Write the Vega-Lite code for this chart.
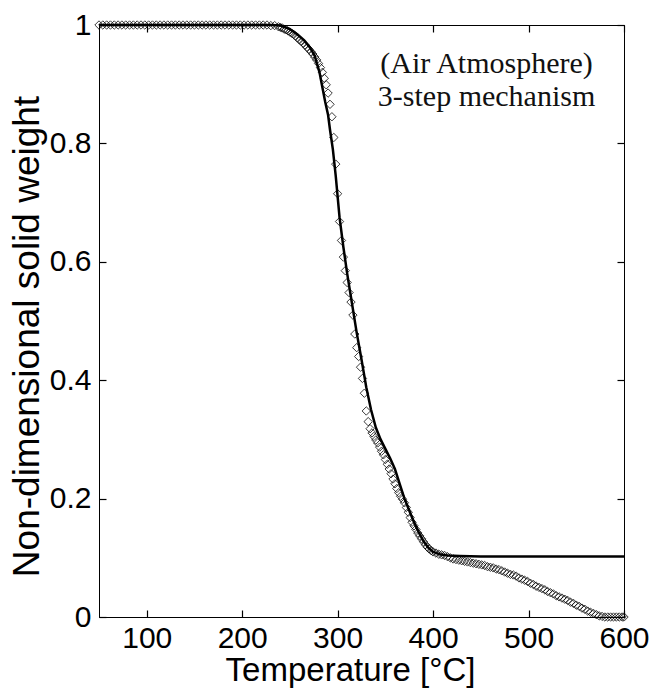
{
  "$schema": "https://vega.github.io/schema/vega-lite/v6.json",
  "width": 525,
  "height": 592,
  "autosize": "none",
  "padding": {"left": 99, "top": 25, "right": 30, "bottom": 73},
  "background": "white",
  "config": {
    "view": {"stroke": "black", "strokeWidth": 1},
    "axis": {
      "labelFont": "Liberation Sans",
      "titleFont": "Liberation Sans",
      "labelColor": "black",
      "titleColor": "black",
      "domainColor": "black",
      "tickColor": "black",
      "grid": false,
      "titleFontWeight": "normal",
      "labelFontSize": 30,
      "tickSize": -7,
      "tickWidth": 1.2
    }
  },
  "datasets": {
    "exp": [
      {"T": 50, "W": 1}, {"T": 54, "W": 1}, {"T": 58, "W": 1}, {"T": 62, "W": 1}, {"T": 66, "W": 1},
      {"T": 70, "W": 1}, {"T": 74, "W": 1}, {"T": 78, "W": 1}, {"T": 82, "W": 1}, {"T": 86, "W": 1},
      {"T": 90, "W": 1}, {"T": 94, "W": 1}, {"T": 98, "W": 1}, {"T": 102, "W": 1}, {"T": 106, "W": 1},
      {"T": 110, "W": 1}, {"T": 114, "W": 1}, {"T": 118, "W": 1}, {"T": 122, "W": 1}, {"T": 126, "W": 1},
      {"T": 130, "W": 1}, {"T": 134, "W": 1}, {"T": 138, "W": 1}, {"T": 142, "W": 1}, {"T": 146, "W": 1},
      {"T": 150, "W": 1}, {"T": 154, "W": 1}, {"T": 158, "W": 1}, {"T": 162, "W": 1}, {"T": 166, "W": 1},
      {"T": 170, "W": 1}, {"T": 174, "W": 1}, {"T": 178, "W": 1}, {"T": 182, "W": 1}, {"T": 186, "W": 1},
      {"T": 190, "W": 1}, {"T": 194, "W": 1}, {"T": 198, "W": 1}, {"T": 202, "W": 1}, {"T": 206, "W": 1},
      {"T": 210, "W": 1}, {"T": 214, "W": 1}, {"T": 218, "W": 1}, {"T": 222, "W": 1}, {"T": 226, "W": 1},
      {"T": 230, "W": 0.999}, {"T": 234, "W": 0.999}, {"T": 238, "W": 0.997},
      {"T": 240, "W": 0.996}, {"T": 242, "W": 0.995}, {"T": 244, "W": 0.993}, {"T": 246, "W": 0.992},
      {"T": 248, "W": 0.99}, {"T": 250, "W": 0.988}, {"T": 252, "W": 0.986}, {"T": 254, "W": 0.984},
      {"T": 256, "W": 0.981}, {"T": 258, "W": 0.978}, {"T": 260, "W": 0.975}, {"T": 262, "W": 0.972},
      {"T": 264, "W": 0.969}, {"T": 266, "W": 0.966}, {"T": 268, "W": 0.962}, {"T": 270, "W": 0.959},
      {"T": 272, "W": 0.955}, {"T": 274, "W": 0.951}, {"T": 276, "W": 0.946}, {"T": 278, "W": 0.941},
      {"T": 280, "W": 0.935}, {"T": 282, "W": 0.928}, {"T": 284, "W": 0.92}, {"T": 286, "W": 0.91},
      {"T": 288, "W": 0.899}, {"T": 290, "W": 0.885}, {"T": 292, "W": 0.866}, {"T": 294, "W": 0.845},
      {"T": 296, "W": 0.81}, {"T": 298, "W": 0.765}, {"T": 300, "W": 0.715}, {"T": 302, "W": 0.668},
      {"T": 304, "W": 0.636}, {"T": 306, "W": 0.608}, {"T": 308, "W": 0.585}, {"T": 310, "W": 0.565},
      {"T": 312, "W": 0.548}, {"T": 314, "W": 0.532}, {"T": 316, "W": 0.51}, {"T": 318, "W": 0.478},
      {"T": 320, "W": 0.455}, {"T": 322, "W": 0.44}, {"T": 324, "W": 0.422}, {"T": 326, "W": 0.403},
      {"T": 328, "W": 0.378}, {"T": 330, "W": 0.348}, {"T": 332, "W": 0.33}, {"T": 334, "W": 0.318},
      {"T": 336, "W": 0.311}, {"T": 338, "W": 0.305}, {"T": 340, "W": 0.299}, {"T": 342, "W": 0.294},
      {"T": 344, "W": 0.287}, {"T": 346, "W": 0.28}, {"T": 348, "W": 0.274}, {"T": 350, "W": 0.266},
      {"T": 352, "W": 0.258}, {"T": 354, "W": 0.25}, {"T": 356, "W": 0.242}, {"T": 358, "W": 0.233},
      {"T": 360, "W": 0.225}, {"T": 362, "W": 0.217}, {"T": 364, "W": 0.21}, {"T": 366, "W": 0.204},
      {"T": 368, "W": 0.199}, {"T": 370, "W": 0.193}, {"T": 372, "W": 0.185}, {"T": 374, "W": 0.177},
      {"T": 376, "W": 0.168}, {"T": 378, "W": 0.16}, {"T": 380, "W": 0.154}, {"T": 382, "W": 0.148},
      {"T": 384, "W": 0.142}, {"T": 386, "W": 0.137}, {"T": 388, "W": 0.132}, {"T": 390, "W": 0.127},
      {"T": 392, "W": 0.122}, {"T": 394, "W": 0.118}, {"T": 396, "W": 0.115}, {"T": 398, "W": 0.112},
      {"T": 400, "W": 0.11}, {"T": 403, "W": 0.108}, {"T": 406, "W": 0.106}, {"T": 409, "W": 0.105},
      {"T": 412, "W": 0.104}, {"T": 415, "W": 0.102}, {"T": 418, "W": 0.1}, {"T": 421, "W": 0.098},
      {"T": 424, "W": 0.097}, {"T": 427, "W": 0.096}, {"T": 430, "W": 0.095}, {"T": 433, "W": 0.094},
      {"T": 436, "W": 0.093}, {"T": 439, "W": 0.092}, {"T": 442, "W": 0.091}, {"T": 445, "W": 0.09},
      {"T": 448, "W": 0.089}, {"T": 451, "W": 0.088}, {"T": 454, "W": 0.087}, {"T": 457, "W": 0.085},
      {"T": 460, "W": 0.084}, {"T": 463, "W": 0.083}, {"T": 466, "W": 0.081}, {"T": 469, "W": 0.08},
      {"T": 472, "W": 0.078}, {"T": 475, "W": 0.076}, {"T": 478, "W": 0.074}, {"T": 481, "W": 0.072},
      {"T": 484, "W": 0.071}, {"T": 487, "W": 0.069}, {"T": 490, "W": 0.066}, {"T": 493, "W": 0.064},
      {"T": 496, "W": 0.062}, {"T": 499, "W": 0.06}, {"T": 502, "W": 0.057}, {"T": 505, "W": 0.055},
      {"T": 508, "W": 0.052}, {"T": 511, "W": 0.05}, {"T": 514, "W": 0.048}, {"T": 517, "W": 0.046},
      {"T": 520, "W": 0.043}, {"T": 523, "W": 0.041}, {"T": 526, "W": 0.039}, {"T": 529, "W": 0.036},
      {"T": 532, "W": 0.034}, {"T": 535, "W": 0.032}, {"T": 538, "W": 0.03}, {"T": 541, "W": 0.028},
      {"T": 544, "W": 0.025}, {"T": 547, "W": 0.023}, {"T": 550, "W": 0.02}, {"T": 553, "W": 0.018},
      {"T": 556, "W": 0.015}, {"T": 559, "W": 0.013}, {"T": 562, "W": 0.01}, {"T": 565, "W": 0.008},
      {"T": 568, "W": 0.006}, {"T": 571, "W": 0.004}, {"T": 574, "W": 0.002}, {"T": 577, "W": 0.001},
      {"T": 580, "W": 0}, {"T": 583, "W": 0}, {"T": 586, "W": 0}, {"T": 589, "W": 0}, {"T": 592, "W": 0},
      {"T": 595, "W": 0}, {"T": 598, "W": 0}, {"T": 600, "W": 0}
    ],
    "model": [
      {"T": 50, "W": 1}, {"T": 230, "W": 1}, {"T": 240, "W": 0.999}, {"T": 250, "W": 0.993},
      {"T": 258, "W": 0.984}, {"T": 265, "W": 0.974}, {"T": 271, "W": 0.962}, {"T": 276, "W": 0.948},
      {"T": 278, "W": 0.937}, {"T": 281, "W": 0.92}, {"T": 284, "W": 0.895}, {"T": 287, "W": 0.87},
      {"T": 290, "W": 0.848}, {"T": 292, "W": 0.823}, {"T": 295, "W": 0.79}, {"T": 298, "W": 0.745},
      {"T": 302, "W": 0.675}, {"T": 306, "W": 0.625}, {"T": 310, "W": 0.58}, {"T": 315, "W": 0.53},
      {"T": 320, "W": 0.48}, {"T": 325, "W": 0.435}, {"T": 330, "W": 0.388}, {"T": 335, "W": 0.35},
      {"T": 340, "W": 0.32}, {"T": 345, "W": 0.3}, {"T": 350, "W": 0.284}, {"T": 355, "W": 0.268},
      {"T": 360, "W": 0.25}, {"T": 365, "W": 0.225}, {"T": 370, "W": 0.2}, {"T": 375, "W": 0.18},
      {"T": 380, "W": 0.16}, {"T": 385, "W": 0.143}, {"T": 390, "W": 0.128}, {"T": 395, "W": 0.117},
      {"T": 400, "W": 0.11}, {"T": 407, "W": 0.106}, {"T": 415, "W": 0.104}, {"T": 428, "W": 0.103},
      {"T": 450, "W": 0.102}, {"T": 600, "W": 0.102}
    ],
    "note": [
      {"label": "(Air Atmosphere)\n3-step mechanism"}
    ]
  },
  "layer": [
    {
      "data": {"name": "exp"},
      "mark": {"type": "point", "shape": "diamond", "filled": false, "size": 70, "stroke": "#000", "strokeWidth": 0.9, "opacity": 0.85},
      "encoding": {
        "x": {
          "field": "T", "type": "quantitative",
          "scale": {"domain": [50, 600], "nice": false, "zero": false},
          "axis": {"orient": "bottom", "values": [100, 200, 300, 400, 500, 600], "title": "Temperature [°C]", "titleFontSize": 33, "titleX": 251, "labelPadding": 13, "titlePadding": 1, "labelFlush": false}
        },
        "y": {
          "field": "W", "type": "quantitative",
          "scale": {"domain": [0, 1], "nice": false},
          "axis": {"orient": "left", "values": [0, 0.2, 0.4, 0.6, 0.8, 1], "format": "~g", "title": "Non-dimensional solid weight", "titleFontSize": 37, "titleY": 311, "labelPadding": 15, "titlePadding": 3, "labelFlush": false}
        }
      }
    },
    {
      "data": {"name": "model"},
      "mark": {"type": "line", "color": "black", "strokeWidth": 2.5},
      "encoding": {
        "x": {
          "field": "T", "type": "quantitative",
          "axis": {"orient": "top", "values": [100, 200, 300, 400, 500, 600], "labels": false, "title": null}
        },
        "y": {
          "field": "W", "type": "quantitative",
          "axis": {"orient": "right", "values": [0, 0.2, 0.4, 0.6, 0.8, 1], "labels": false, "title": null}
        }
      }
    },
    {
      "data": {"name": "note"},
      "mark": {"type": "text", "font": "Liberation Serif", "fontSize": 30, "lineBreak": "\n", "lineHeight": 33, "align": "center", "baseline": "alphabetic", "color": "#111"},
      "encoding": {
        "x": {"datum": 456, "type": "quantitative", "axis": null},
        "y": {"datum": 0.919, "type": "quantitative", "axis": null},
        "text": {"field": "label"}
      }
    }
  ],
  "resolve": {"axis": {"x": "independent", "y": "independent"}}
}
